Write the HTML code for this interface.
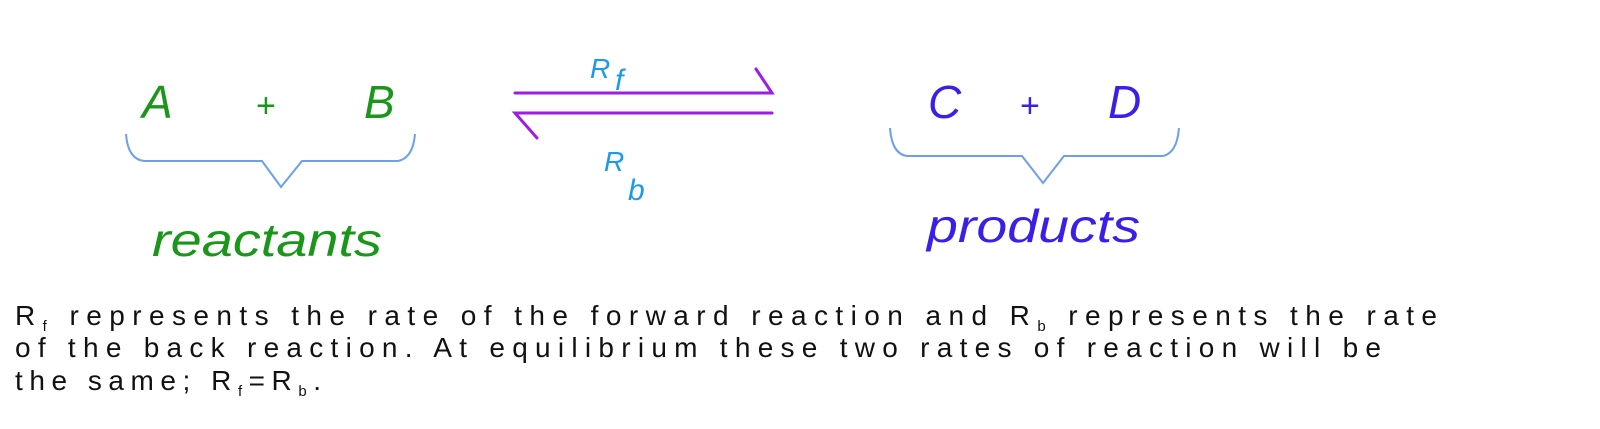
<!DOCTYPE html>
<html><head><meta charset="utf-8"><style>
html,body{margin:0;padding:0;background:#fff;width:1600px;height:429px;overflow:hidden}
svg{display:block}
.big{font-family:"Liberation Sans",sans-serif;font-style:italic}
.t{font-family:"Liberation Sans",sans-serif;font-size:28px;fill:#111}
</style></head><body>
<svg width="1600" height="429" viewBox="0 0 1600 429">
<g class="big" fill="#1a961a">
<text x="142" y="118" font-size="46">A</text>
<text x="256" y="117" font-size="34" font-style="normal">+</text>
<text x="364" y="118" font-size="46">B</text>
<text x="152" y="256" font-size="46" textLength="230" lengthAdjust="spacingAndGlyphs">reactants</text>
</g>
<g class="big" fill="#3b1ee8">
<text x="928" y="118" font-size="46">C</text>
<text x="1020" y="117" font-size="34" font-style="normal">+</text>
<text x="1108" y="118" font-size="46">D</text>
<text x="927" y="242" font-size="46" textLength="213" lengthAdjust="spacingAndGlyphs">products</text>
</g>
<g fill="none" stroke="#6d9fea" stroke-width="2">
<path d="M126,134 Q128,160 145,161 L262,161 L281,187 L302,161 L398,161 Q413,158 415,134"/>
<path d="M890,128 Q892,155 908,156 L1022,156 L1043,183 L1064,156 L1163,156 Q1177,153 1179,128"/>
</g>
<g fill="none" stroke="#9a1ee8" stroke-width="3" stroke-linecap="round">
<path d="M515,93 L772,93 L756,69"/>
<path d="M772,113 L515,113 L537,138"/>
</g>
<g class="big" fill="#1a9ae8">
<text x="590" y="78" font-size="28">R</text>
<text x="615" y="90" font-size="30">f</text>
<text x="604" y="171" font-size="28">R</text>
<text x="628" y="200" font-size="30">b</text>
</g>
<text class="t" x="15" y="325" textLength="1422" lengthAdjust="spacing">R<tspan font-size="15" dy="6">f</tspan><tspan dy="-6"> represents the rate of the forward reaction and R</tspan><tspan font-size="15" dy="6">b</tspan><tspan dy="-6"> represents the rate</tspan></text>
<text class="t" x="15" y="357" textLength="1366" lengthAdjust="spacing">of the back reaction.  At equilibrium these two rates of reaction will be</text>
<text class="t" x="15" y="390" textLength="306" lengthAdjust="spacing">the same; R<tspan font-size="15" dy="6">f</tspan><tspan dy="-6">=R</tspan><tspan font-size="15" dy="6">b</tspan><tspan dy="-6">.</tspan></text>
</svg>
</body></html>
